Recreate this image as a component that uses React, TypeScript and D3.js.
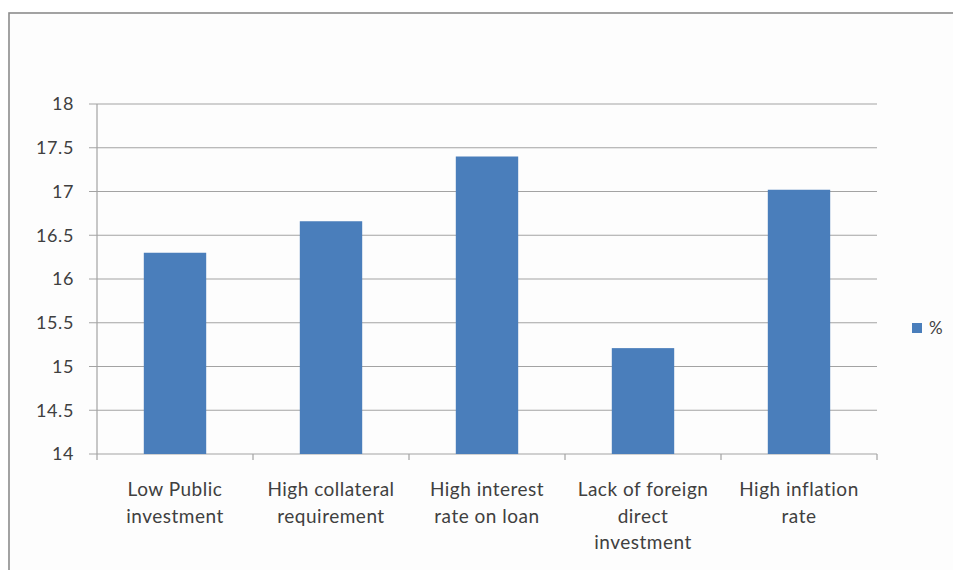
import React from "react";
import * as d3 from "d3";

// Reasons cited, share of respondents (%)
const categories: string[][] = [
  ["Low Public", "investment"],
  ["High collateral", "requirement"],
  ["High interest", "rate on loan"],
  ["Lack of foreign", "direct", "investment"],
  ["High inflation", "rate"],
];
const values: number[] = [16.3, 16.66, 17.4, 15.21, 17.02];
const yTicks: number[] = [14, 14.5, 15, 15.5, 16, 16.5, 17, 17.5, 18];
const seriesName = "%";

const W = 953;
const H = 570;
const plot = { left: 97, right: 877, top: 104, bottom: 454 };
const FONT = "Lato, 'Open Sans', sans-serif";
const BAR = "#4a7ebb";
const GRID = "#a3a3a3";
const TEXT = "#404040";

export default function App() {
  const x = d3
    .scaleBand<number>()
    .domain(d3.range(values.length))
    .range([plot.left, plot.right]);
  const y = d3.scaleLinear().domain([14, 18]).range([plot.bottom, plot.top]);
  const barW = x.bandwidth() / 2.5;
  const boundaries = d3.range(values.length + 1).map((i) => plot.left + i * x.step());

  return (
    <svg
      width={W}
      height={H}
      style={{ position: "absolute", left: 0, top: 0, background: "#fff" }}
      fontFamily={FONT}
    >
      <rect x={9} y={13} width={W + 20} height={H + 20} fill="#fdfdfd" stroke="#8c8c8c" strokeWidth={1.6} />

      {/* horizontal gridlines with tick stubs */}
      {yTicks.map((t) => (
        <g key={t}>
          <line x1={plot.left - 8} x2={plot.right} y1={y(t)} y2={y(t)} stroke={GRID} strokeWidth={1.2} />
          <text x={74} y={y(t)} dy="0.36em" textAnchor="end" fontSize={18} letterSpacing={0.6} fill={TEXT}>
            {t}
          </text>
        </g>
      ))}

      {/* value axis */}
      <line x1={plot.left} x2={plot.left} y1={plot.top} y2={plot.bottom} stroke={GRID} strokeWidth={1.2} />

      {/* category tick marks */}
      {boundaries.map((bx, i) => (
        <line key={i} x1={bx} x2={bx} y1={plot.bottom} y2={plot.bottom + 6} stroke={GRID} strokeWidth={1.2} />
      ))}

      {/* bars */}
      {values.map((v, i) => {
        const cx = (x(i) as number) + x.bandwidth() / 2;
        return (
          <rect key={i} x={cx - barW / 2} y={y(v)} width={barW} height={y(14) - y(v)} fill={BAR} />
        );
      })}

      {/* category labels */}
      {categories.map((lines, i) => {
        const cx = (x(i) as number) + x.bandwidth() / 2;
        return (
          <text key={i} x={cx} textAnchor="middle" fontSize={19} letterSpacing={0.5} fill={TEXT}>
            {lines.map((ln, j) => (
              <tspan key={j} x={cx} y={496 + j * 26.5}>
                {ln}
              </tspan>
            ))}
          </text>
        );
      })}

      {/* legend */}
      <rect x={912} y={323} width={10} height={10} fill={BAR} />
      <text x={929} y={328} dy="0.36em" fontSize={17} fill={TEXT}>
        {seriesName}
      </text>
    </svg>
  );
}
